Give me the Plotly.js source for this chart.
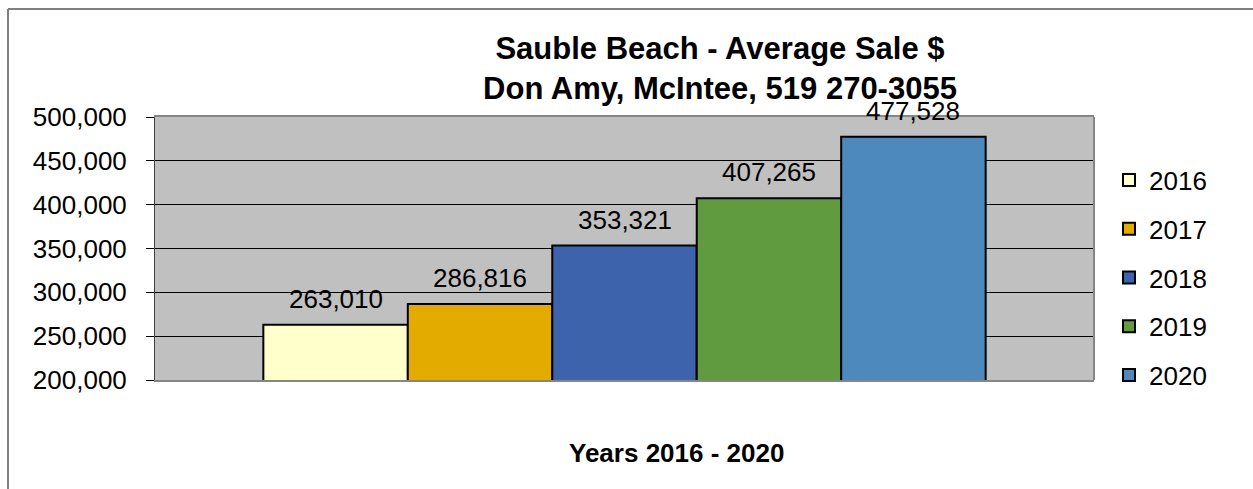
<!DOCTYPE html>
<html><head><meta charset="utf-8">
<script src="https://cdn.plot.ly/plotly-3.0.1.min.js"></script>
<style>html,body{margin:0;padding:0;background:#fff}#chart{width:1253px;height:489px}</style>
</head><body><div id="chart"></div>
<script>
const years = ['2016', '2017', '2018', '2019', '2020'];
const yearNums = [2016, 2017, 2018, 2019, 2020];
const averageSale = [263010, 286816, 353321, 407265, 477528];
const barColors = ['#FFFFCC', '#E3AB00', '#3E63AD', '#609B3F', '#4E89BD'];
const titleLines = ['Sauble Beach - Average Sale $', 'Don Amy, McIntee, 519 270-3055'];
const xTitle = 'Years 2016 - 2020';
const yTickVals = [200000, 250000, 300000, 350000, 400000, 450000, 500000];

const FONT = 'Liberation Sans, Arial, Helvetica, sans-serif';

const traces = years.map((yr, i) => ({
  type: 'bar',
  name: yr,
  legendgroup: yr,
  x: [yearNums[i]],
  y: [averageSale[i]],
  width: [1],
  marker: {color: barColors[i], line: {color: '#000000', width: 2}},
  hoverinfo: 'name+y'
}));

const labelAnns = years.map((yr, i) => ({
  xref: 'x', yref: 'y',
  x: yearNums[i], y: averageSale[i],
  text: averageSale[i].toLocaleString('en-US'),
  showarrow: false,
  xanchor: 'center', yanchor: 'bottom',
  yshift: 9,
  font: {family: FONT, size: 26, color: '#000000'}
}));

const layout = {
  width: 1253, height: 489,
  paper_bgcolor: '#ffffff',
  plot_bgcolor: '#C0C0C0',
  margin: {l: 155, r: 159, t: 117, b: 109, pad: 0},
  barmode: 'overlay',
  showlegend: true,
  font: {family: FONT, size: 26, color: '#000000'},
  title: {
    text: titleLines.join('<br>'),
    font: {family: FONT, size: 31, color: '#000000', weight: 'bold'},
    xref: 'container', x: 720 / 1253, xanchor: 'center',
    yref: 'container', y: 1 - 59 / 489, yanchor: 'top'
  },
  xaxis: {
    range: [2014.75, 2021.25],
    showticklabels: false, ticks: '', showgrid: false, zeroline: false,
    showline: true, mirror: true, linecolor: '#868686', linewidth: 2,
    fixedrange: true
  },
  yaxis: {
    range: [200000, 500000],
    tickvals: yTickVals,
    tickformat: ',d',
    ticks: 'outside', ticklen: 8, tickcolor: '#000000', tickwidth: 1,
    ticklabelstandoff: 14,
    tickfont: {family: FONT, size: 26, color: '#000000'},
    showgrid: true, gridcolor: '#000000', gridwidth: 1,
    zeroline: false,
    showline: true, linecolor: '#404040', linewidth: 1,
    fixedrange: true
  },
  legend: {
    x: (1109 - 155) / 939, xanchor: 'left',
    y: (380 - 278) / 263, yanchor: 'middle',
    font: {family: FONT, size: 26, color: '#000000'},
    tracegroupgap: 12,
    bgcolor: 'rgba(0,0,0,0)', borderwidth: 0
  },
  annotations: labelAnns.concat([{
    xref: 'paper', yref: 'paper',
    x: (676 - 155) / 939, y: (380 - 453) / 263,
    xanchor: 'center', yanchor: 'middle',
    text: xTitle, showarrow: false,
    font: {family: FONT, size: 26, color: '#000000', weight: 'bold'}
  }]),
  shapes: [
    {type: 'line', xref: 'paper', yref: 'paper', x0: 1, x1: 1, y0: 0, y1: 1,
     line: {color: '#868686', width: 2}},
    {type: 'line', xref: 'paper', yref: 'paper',
     x0: (8 - 155) / 939, x1: (8 - 155) / 939, y0: (380 - 9) / 263, y1: (380 - 495) / 263,
     line: {color: '#808080', width: 2}},
    {type: 'line', xref: 'paper', yref: 'paper',
     x0: (8 - 155) / 939, x1: (1260 - 155) / 939, y0: (380 - 9) / 263, y1: (380 - 9) / 263,
     line: {color: '#808080', width: 2}}
  ]
};

Plotly.newPlot('chart', traces, layout, {displayModeBar: false, responsive: false});
</script>
</body></html>
